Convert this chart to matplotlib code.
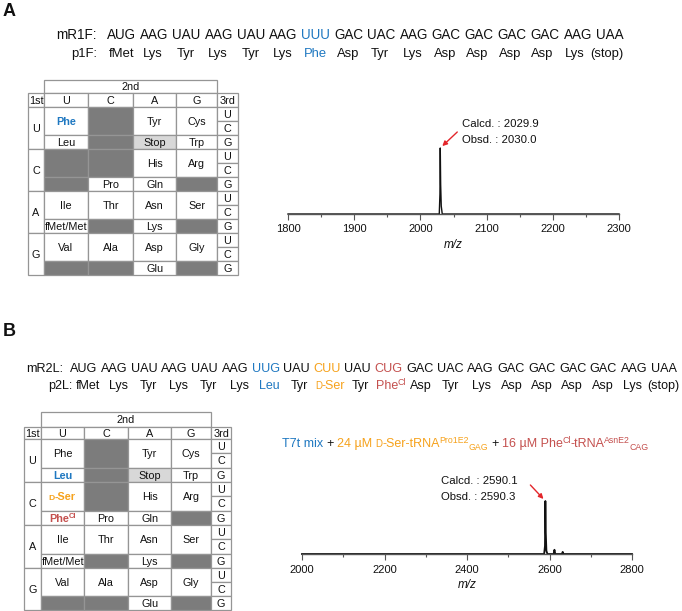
import matplotlib.pyplot as plt
from matplotlib.patches import Rectangle
from matplotlib.ticker import MultipleLocator
from matplotlib.font_manager import FontProperties, findfont
from matplotlib.ft2font import FT2Font

plt.rcParams['font.family'] = ['Liberation Sans', 'DejaVu Sans']

W, H = 682, 611
BLUE = '#1f78c1'
ORANGE = '#f6a21c'
RED = '#c4504e'
ARROW = '#e3262b'
DARK = '#7c7c7c'
STOPC = '#d8d8d8'
GRID = '#959595'
INK = '#111111'

# ---- sequences ----
codons_A = ['AUG', 'AAG', 'UAU', 'AAG', 'UAU', 'AAG', 'UUU', 'GAC', 'UAC', 'AAG',
            'GAC', 'GAC', 'GAC', 'GAC', 'AAG', 'UAA']
peptide_A = ['fMet', 'Lys', 'Tyr', 'Lys', 'Tyr', 'Lys', 'Phe', 'Asp', 'Tyr', 'Lys',
             'Asp', 'Asp', 'Asp', 'Asp', 'Lys', '(stop)']
seq_colors_A = {6: BLUE}

codons_B = ['AUG', 'AAG', 'UAU', 'AAG', 'UAU', 'AAG', 'UUG', 'UAU', 'CUU', 'UAU',
            'CUG', 'GAC', 'UAC', 'AAG', 'GAC', 'GAC', 'GAC', 'GAC', 'AAG', 'UAA']
peptide_B = ['fMet', 'Lys', 'Tyr', 'Lys', 'Tyr', 'Lys', 'Leu', 'Tyr', 'D-Ser', 'Tyr',
             'PheCl', 'Asp', 'Tyr', 'Lys', 'Asp', 'Asp', 'Asp', 'Asp', 'Lys', '(stop)']
seq_colors_B = {6: BLUE, 8: ORANGE, 10: RED}

# ---- codon tables (rows = 1st base, cols = 2nd base; None = dark cell) ----
first_base = ['U', 'C', 'A', 'G']
second_base = ['U', 'C', 'A', 'G']
third_base = ['U', 'C', 'G']

# cell for 3rd base U/C (merged) and for 3rd base G
table_uc_A = [['Phe', None, 'Tyr', 'Cys'],
              [None, None, 'His', 'Arg'],
              ['Ile', 'Thr', 'Asn', 'Ser'],
              ['Val', 'Ala', 'Asp', 'Gly']]
table_g_A = [['Leu', None, 'Stop', 'Trp'],
             [None, 'Pro', 'Gln', None],
             ['fMet/Met', None, 'Lys', None],
             [None, None, 'Glu', None]]
table_hl_A = {'Phe': BLUE}

table_uc_B = [['Phe', None, 'Tyr', 'Cys'],
              ['D-Ser', None, 'His', 'Arg'],
              ['Ile', 'Thr', 'Asn', 'Ser'],
              ['Val', 'Ala', 'Asp', 'Gly']]
table_g_B = [['Leu', None, 'Stop', 'Trp'],
             ['PheCl', 'Pro', 'Gln', None],
             ['fMet/Met', None, 'Lys', None],
             [None, None, 'Glu', None]]
table_hl_B = {'Leu': BLUE, 'D-Ser': ORANGE, 'PheCl': RED}

# ---- MS spectra (m/z, relative intensity) ----
mz_A = [1800, 2028.5, 2029.5, 2030, 2030.6, 2031.5, 2033, 2300]
int_A = [0, 0, 0.3, 1.0, 0.45, 0.12, 0, 0]
calc_A, obsd_A = 2029.9, 2030.0

mz_B = [2000, 2587, 2589, 2590, 2591, 2592.5, 2595, 2610, 2612, 2614,
        2630, 2632, 2634, 2800]
int_B = [0, 0, 0.15, 1.0, 0.4, 0.06, 0, 0, 0.08, 0,
         0, 0.04, 0, 0]
calc_B, obsd_B = 2590.1, 2590.3

fig = plt.figure(figsize=(W / 100, H / 100), dpi=100)
ov = fig.add_axes([0, 0, 1, 1])
ov.set_xlim(0, W)
ov.set_ylim(H, 0)
ov.axis('off')

_fonts = {}


def px(pt):
    return pt * 100 / 72


def adv(s, size, weight='normal'):
    # typographic advance width (pixels) of a string
    path = findfont(FontProperties(family='Liberation Sans', weight=weight))
    f = _fonts.setdefault(path, FT2Font(path))
    f.set_size(size, 100)
    return sum(f.load_char(ord(ch)).linearHoriAdvance for ch in s) / 65536


def rich(x, y, pieces, size, ha='left', weight='normal'):
    # pieces: (text, color, kind) with kind '', 'sup', 'sub', 'sc' or 'gap'
    arts = []
    cur = x
    for txt, col, kind in pieces:
        if kind == 'gap':
            cur += adv(' ', size, weight)
            continue
        s, dy = size, 0
        if kind == 'sup':
            s, dy = size * 0.7, -0.38 * px(size)
            cur -= 0.06 * px(size)
        elif kind == 'sub':
            s, dy = size * 0.7, 0.22 * px(size)
        elif kind == 'sc':
            s = size * 0.78
        arts.append(ov.text(cur, y + dy, txt, color=col, fontsize=s, fontweight=weight,
                            ha='left', va='baseline'))
        cur += adv(txt, s, weight)
    width = cur - x
    shift = {'left': 0, 'center': width / 2, 'right': width}[ha]
    for t in arts:
        t.set_x(t.get_position()[0] - shift)
    return width


def aa_pieces(name, col):
    if name == 'D-Ser':
        return [('D', col, 'sc'), ('-Ser', col, '')]
    if name == 'PheCl':
        return [('Phe', col, ''), ('Cl', col, 'sup')]
    return [(name, col, '')]


def draw_sequence(codons, peptide, hl, m_x0, m_x1, p_x0, p_step, p_size,
                  y_m, y_p, lab_m, lab_p, lab_xm, lab_xp):
    # codon line: one continuous string fitted between m_x0 and m_x1
    m_size = 10 * (m_x1 - m_x0) / adv(' '.join(codons), 10)
    cm = 0.716 * px(m_size) / 2
    cp = 0.716 * px(p_size) / 2
    ov.text(lab_xm, y_m + cm, lab_m, ha='right', va='baseline', fontsize=m_size, color=INK)
    ov.text(lab_xp, y_p + cp, lab_p, ha='right', va='baseline', fontsize=p_size, color=INK)
    x = m_x0
    for i, c in enumerate(codons):
        ov.text(x, y_m + cm, c, color=hl.get(i, INK), fontsize=m_size, ha='left', va='baseline')
        x += adv(c + ' ', m_size)
    for i, a in enumerate(peptide):
        rich(p_x0 + p_step * i, y_p + cp, aa_pieces(a, hl.get(i, INK)), p_size, ha='center')


def draw_table(xe, y_top, y_head, yb, uc, g, hl, size=7.8):
    cap = 0.716 * px(size)

    def box(x0, y0, x1, y1, fc='white'):
        ov.add_patch(Rectangle((x0, y0), x1 - x0, y1 - y0, facecolor=fc,
                               edgecolor=GRID, lw=0.9))

    def label(xc, yc, pieces, weight='normal'):
        rich(xc, yc + cap / 2, pieces, size, ha='center', weight=weight)

    box(xe[1], y_top, xe[5], y_head)
    label((xe[1] + xe[5]) / 2, (y_top + y_head) / 2, [('2nd', INK, '')])
    heads = ['1st'] + second_base + ['3rd']
    for j, h in enumerate(heads):
        box(xe[j], y_head, xe[j + 1], yb[0])
        label((xe[j] + xe[j + 1]) / 2, (y_head + yb[0]) / 2, [(h, INK, '')])
    for b in range(4):
        y0, y1 = yb[b], yb[b + 1]
        sub = (y1 - y0) / 3
        box(xe[0], y0, xe[1], y1)
        label((xe[0] + xe[1]) / 2, (y0 + y1) / 2, [(first_base[b], INK, '')])
        for c in range(4):
            xa, xz = xe[c + 1], xe[c + 2]
            for name, ya, yz in ((uc[b][c], y0, y0 + 2 * sub), (g[b][c], y0 + 2 * sub, y1)):
                if name is None:
                    box(xa, ya, xz, yz, DARK)
                    continue
                box(xa, ya, xz, yz, STOPC if name == 'Stop' else 'white')
                col = hl.get(name, INK)
                label((xa + xz) / 2, (ya + yz) / 2, aa_pieces(name, col),
                      weight='bold' if name in hl else 'normal')
        for k in range(3):
            box(xe[5], y0 + k * sub, xe[6], y0 + (k + 1) * sub)
            label((xe[5] + xe[6]) / 2, y0 + (k + 0.5) * sub, [(third_base[k], INK, '')])


def spectrum(left, right, axis_y, top_y, mz, inten, xlim, major, minor,
             calc, obsd, text_off, arrow_off, pad, labelpad, lw):
    ax = fig.add_axes([left / W, 1 - axis_y / H, (right - left) / W, (axis_y - top_y) / H])
    ax.set_facecolor('none')
    ax.plot(mz, inten, color=INK, lw=lw, clip_on=False)
    ax.set_xlim(*xlim)
    ax.set_ylim(0, 1)
    for s in ('left', 'top', 'right'):
        ax.spines[s].set_visible(False)
    ax.spines['bottom'].set_color('#555555')
    ax.spines['bottom'].set_linewidth(1)
    ax.set_yticks([])
    ax.xaxis.set_major_locator(MultipleLocator(major))
    ax.xaxis.set_minor_locator(MultipleLocator(minor))
    ax.tick_params(axis='x', which='major', length=4, width=0.8, color='#555555',
                   labelsize=8, pad=pad, labelcolor=INK)
    ax.tick_params(axis='x', which='minor', length=2.5, width=0.8, color='#555555')
    ax.set_xlabel('m/z', style='italic', fontsize=8.5, labelpad=labelpad, color=INK)
    k = max(range(len(inten)), key=lambda i: inten[i])
    pk = (mz[k], inten[k])
    ax.annotate('', xy=pk, xytext=arrow_off, textcoords='offset pixels',
                arrowprops=dict(arrowstyle='-|>', color=ARROW, lw=1,
                                mutation_scale=7, shrinkA=0, shrinkB=2))
    ax.annotate(f'Calcd. : {calc:.1f}', xy=pk, xytext=text_off, textcoords='offset pixels',
                ha='left', va='center', fontsize=8.2, color=INK)
    ax.annotate(f'Obsd. : {obsd:.1f}', xy=pk, xytext=(text_off[0], text_off[1] - 16),
                textcoords='offset pixels', ha='left', va='center', fontsize=8.2, color=INK)


# ---- panel A ----
ov.text(3, 11, 'A', fontsize=13, fontweight='bold', va='center', ha='left', color=INK)
draw_sequence(codons_A, peptide_A, seq_colors_A, 107, 624, 121, 32.4, 9.4,
              34, 52, 'mR1F:', 'p1F:', 97, 97)
draw_table([28, 44, 88, 133, 176, 217, 238], 80, 93, [107, 149, 191, 233, 275],
           table_uc_A, table_g_A, table_hl_A)
spectrum(288, 619, 214, 148, mz_A, int_A, (1800, 2300), 100, 50,
         calc_A, obsd_A, (22, 24), (17, 16), 3, 4, 1.0)

# ---- panel B ----
ov.text(3, 331, 'B', fontsize=13, fontweight='bold', va='center', ha='left', color=INK)
draw_sequence(codons_B, peptide_B, seq_colors_B, 70, 676, 88, 30.26, 9.0,
              367, 385, 'mR2L:', 'p2L:', 63, 72)
draw_table([24, 41, 84, 128, 171, 211, 231], 412, 427, [439, 482, 525, 568, 610],
           table_uc_B, table_g_B, table_hl_B)
title_size = 9
rich(282, 443 + 0.358 * px(title_size), [
    ('T7t mix', BLUE, ''), ('', '', 'gap'), ('+', INK, ''), ('', '', 'gap'),
    ('24 µM', ORANGE, ''), ('', '', 'gap'), ('D', ORANGE, 'sc'), ('-Ser-tRNA', ORANGE, ''),
    ('Pro1E2', ORANGE, 'sup'), ('GAG', ORANGE, 'sub'), ('', '', 'gap'),
    ('+', INK, ''), ('', '', 'gap'), ('16 µM Phe', RED, ''), ('Cl', RED, 'sup'),
    ('-tRNA', RED, ''), ('AsnE2', RED, 'sup'), ('CAG', RED, 'sub')], title_size)
spectrum(302, 632, 554, 501, mz_B, int_B, (2000, 2800), 200, 100,
         calc_B, obsd_B, (-104, 20), (-15, 16), 4, 3, 1.3)

fig.savefig('out.png', dpi=100)
